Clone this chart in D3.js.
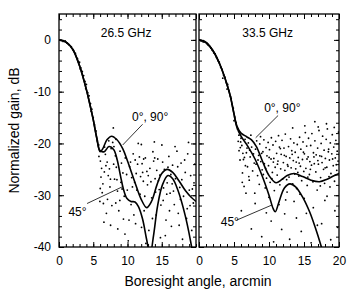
<!DOCTYPE html>
<html>
<head>
<meta charset="utf-8">
<script src="https://cdn.jsdelivr.net/npm/d3@7"></script>
<style>
  body { margin: 0; background: #fff; }
  svg { display: block; font-family: "Liberation Sans", Arial, sans-serif; }
  .tick text { font-size: 12px; fill: #000; }
</style>
</head>
<body>
<div id="graphicContainer"></div>
<script>

// ---- data (angle in arcmin, gain in dB) ----

var panels = ["26.5 GHz", "33.5 GHz"]

var xMajor = [0, 5, 10, 15, 20]
var yMajor = [0, -10, -20, -30, -40]

// 26.5 GHz, 0 and 90 deg cuts
var curveL0 = [[0,0],[1,-0.4],[2,-1.8],[3,-5],[4,-9.6],[4.5,-12.4],[5,-15.4],[5.5,-18.8],[6,-21.6],[6.4,-21],[7,-19.3],[7.7,-18.6],[8.4,-19.2],[9.3,-21],[10,-23.4],[11,-27.2],[12,-30.8],[12.8,-32.4],[13.5,-31.2],[14.3,-28],[15,-25.8],[15.8,-25],[16.6,-25.6],[17.5,-27.2],[18.5,-29.2],[19.3,-30.4],[20,-31.2]]
// 26.5 GHz, 45 deg cut
var curveL45 = [[0,0],[1,-0.4],[2,-1.8],[3,-5],[4,-9.6],[4.5,-12.4],[5,-15.4],[5.5,-18.9],[6,-21.4],[6.6,-21.6],[7.3,-20.6],[8,-21.2],[8.5,-23.2],[9,-26.4],[9.4,-28.8],[9.9,-30.6],[10.5,-31.2],[11.1,-31.3],[11.6,-32.2],[12.2,-34.6],[12.8,-38.6],[13.3,-41.5],[13.8,-37.8],[14.4,-32],[15.1,-28],[15.9,-26.2],[16.6,-26.8],[17.4,-29.2],[18.4,-33.8],[19.2,-38.8],[19.6,-42]]

// 33.5 GHz, 0 and 90 deg cuts
var curveR0 = [[0,0],[1,-0.5],[2,-2.1],[3,-4.8],[4,-8.6],[4.5,-11],[5,-14.3],[5.4,-16.6],[6,-18],[6.8,-18.7],[7.5,-19.3],[8.2,-20.6],[9,-23.2],[10,-26.2],[11,-27.6],[11.8,-27],[12.6,-26.2],[13.6,-25.8],[14.8,-26.4],[16,-27.1],[17.2,-27.4],[18.3,-26.9],[19.2,-26.3],[20,-25.8]]
// 33.5 GHz, 45 deg cut
var curveR45 = [[0,0],[1,-0.5],[2,-2.1],[3,-4.8],[4,-8.6],[4.5,-11],[5,-14.3],[5.4,-16.8],[6,-18.6],[7,-20.6],[8,-23],[9,-26.2],[10,-30],[10.6,-32.6],[10.9,-33.2],[11.4,-31.4],[12.2,-28.6],[13,-27.8],[13.8,-28.4],[14.9,-30.6],[15.8,-33.2],[16.6,-36.2],[17.4,-39.6],[17.8,-41.5]]

// measured points, 26.5 GHz
var pointsL = [[0.3,-0.1],[0.6,-0.3],[0.9,-0.2],[1.2,-0.6],[1.5,-1.0],[1.8,-1.3],[2.1,-2.0],[2.4,-2.6],[2.7,-3.6],[3.0,-4.3],[3.2,-5.4],[3.4,-6.1],[3.6,-6.9],[3.8,-8.0],[4.0,-8.6],[4.2,-10.2],[4.4,-10.8],[4.6,-12.3],[4.8,-13.4],[5.0,-15.0],[5.2,-16.4],[5.4,-17.6],[5.6,-19.5],[5.8,-20.3],[3.1,-5.6],[3.9,-9.4],[4.7,-13.8],
  [5.83,-22.5],[6.04,-23.4],[6.22,-24.8],[6.13,-26.5],[6.41,-27.8],[6.62,-25.5],[6.31,-29.5],[6.77,-22.1],[7.03,-23.6],[7.19,-26.2],[7.44,-28.4],[7.08,-30.8],[6.92,-33.5],[7.53,-35.8],[7.61,-21.0],[7.84,-19.8],[8.02,-20.6],[8.23,-22.4],[8.37,-24.6],[8.11,-26.9],[8.54,-29.2],[8.29,-31.5],[8.73,-33.0],[8.58,-36.5],[8.91,-21.5],[9.12,-23.8],[9.33,-25.7],[9.04,-27.5],[9.52,-30.2],[9.41,-34.6],[9.68,-22.8],[9.87,-26.0],[9.97,-29.0],[7.93,-17.0],[8.32,-19.2],[7.27,-19.5],[6.66,-20.7],[9.63,-37.5],[7.72,-32.0],[6.48,-31.6],[6.85,-24.3],[7.36,-24.9],[7.98,-24.0],[8.46,-27.0],[9.21,-28.8],[6.02,-28.7],[5.97,-31.2],[6.56,-35.2],[8.88,-31.0],[7.51,-26.9],
  [10.31,-24.5],[10.52,-31.8],[10.83,-22.0],[11.04,-27.5],[11.18,-35.5],[11.47,-24.0],[11.83,-29.8],[12.02,-20.2],[12.21,-25.6],[12.43,-33.0],[12.61,-22.8],[12.92,-28.0],[13.12,-36.8],[13.27,-24.8],[13.53,-30.5],[13.71,-21.6],[14.03,-26.8],[14.19,-33.8],[14.42,-23.0],[14.63,-28.9],[14.81,-38.2],[15.02,-20.3],[15.21,-31.0],[15.38,-25.0],[15.62,-34.8],[15.79,-27.6],[16.04,-22.5],[16.22,-29.6],[16.41,-36.0],[16.58,-24.2],[16.83,-31.8],[17.01,-26.8],[17.22,-21.5],[17.41,-33.5],[17.63,-28.5],[17.82,-23.8],[18.03,-38.5],[18.18,-30.2],[18.43,-25.6],[18.62,-34.5],[18.79,-22.0],[19.02,-29.0],[19.22,-26.2],[19.38,-36.8],[19.61,-31.5],[19.83,-24.0],[10.11,-38.8],[12.68,-39.3],[11.57,-20.0],[13.92,-19.7],[16.94,-20.6],[18.91,-19.8],[10.93,-33.8],[14.88,-31.9],[17.93,-27.0],[19.47,-28.8],[12.31,-27.3],[13.64,-34.5],[15.52,-37.8],[16.33,-26.0],[11.36,-29.0],[17.54,-35.8],[18.72,-32.6],[14.27,-25.2],
  [11.12,-23.2],[11.91,-26.4],[12.13,-23.9],[13.03,-26.2],[13.82,-23.4],[14.11,-29.4],[15.13,-23.6],[15.73,-29.8],[16.52,-27.8],[10.61,-26.6],[12.52,-30.2],[14.72,-26.1],
  [10.44,-23.6],[10.72,-28.4],[11.27,-25.8],[11.74,-22.6],[12.36,-23.0],[12.83,-25.4],[13.42,-27.4],[13.97,-22.8],[14.52,-27.2],[15.26,-28.6],[15.91,-24.6],[16.71,-29.2],[17.33,-24.5],[17.72,-30.8],[18.34,-23.2],[19.13,-32.0],[19.71,-27.6],[10.22,-34.8],[12.05,-36.2],[16.13,-33.0]]

// measured points, 33.5 GHz
var pointsR = [[0.3,-0.2],[0.6,-0.4],[0.8,-0.3],[1.1,-0.7],[1.3,-1.0],[1.5,-1.2],[1.7,-1.6],[1.9,-2.0],[2.1,-2.5],[2.3,-2.7],[2.5,-3.4],[2.7,-4.0],[2.9,-4.3],[3.1,-5.3],[3.3,-5.7],[3.5,-6.8],[3.7,-7.2],[3.9,-8.3],[4.1,-8.6],[4.3,-9.9],[4.5,-10.9],[4.7,-12.4],[4.9,-13.2],[5.1,-14.9],[5.3,-16.0],[5.5,-17.2],[5.7,-18.4],[3.4,-7.4],[4.0,-9.5],[4.6,-11.3],[5.0,-15.6],[5.6,-19.6],[5.9,-20.8],[6.0,-19.0],
  [5.72,-21.4],[5.86,-23.2],[5.95,-19.7],[6.27,-21.9],[6.49,-22.7],[6.63,-24.3],[6.86,-20.9],[7.12,-26.4],[6.18,-27.5],[6.71,-29.6],
  [6.12,-20.4],[6.35,-23.1],[6.58,-19.2],[6.21,-25.7],[6.77,-21.8],[6.44,-28.3],[6.93,-24.5],[7.05,-19.9],[7.31,-22.6],[7.18,-27.1],[7.52,-20.7],[7.66,-25.3],[7.41,-18.4],[7.89,-23.8],[7.97,-29.6],[8.08,-21.1],[8.24,-19.5],[8.37,-26.2],[8.15,-24.0],[8.52,-22.3],[8.68,-20.1],[8.61,-27.9],[8.83,-23.5],[8.79,-18.7],[9.02,-25.1],[9.13,-21.6],[9.27,-19.3],[9.34,-23.9],[9.46,-28.6],[9.58,-20.8],[9.71,-22.4],[9.65,-26.7],[9.88,-19.8],[9.93,-24.3],
  [10.07,-21.2],[10.16,-27.5],[10.29,-23.0],[10.34,-18.9],[10.48,-25.6],[10.57,-20.3],[10.69,-22.9],[10.76,-29.1],[10.88,-24.6],[10.95,-19.6],[11.09,-21.9],[11.17,-26.1],[11.28,-23.4],[11.36,-18.5],[11.49,-20.7],[11.55,-28.0],[11.67,-24.9],[11.74,-22.1],[11.86,-19.4],[11.93,-26.9],[12.05,-23.7],[12.14,-20.9],[12.27,-25.2],[12.33,-18.2],[12.45,-22.5],[12.58,-29.4],[12.64,-24.1],[12.79,-20.6],[12.86,-26.5],[12.97,-22.8],
  [13.08,-19.1],[13.16,-24.7],[13.25,-21.4],[13.39,-27.8],[13.47,-23.3],[13.55,-19.9],[13.68,-25.9],[13.74,-21.7],[13.89,-23.6],[13.95,-28.7],[14.04,-20.2],[14.18,-22.7],[14.26,-26.3],[14.37,-18.8],[14.49,-24.4],[14.55,-21.1],[14.67,-27.2],[14.78,-23.1],[14.86,-19.7],[14.97,-25.4],
  [15.06,-22.0],[15.19,-17.9],[15.27,-24.8],[15.38,-20.5],[15.46,-28.1],[15.59,-22.6],[15.65,-19.0],[15.77,-26.0],[15.84,-23.5],[15.96,-20.4],[16.07,-24.2],[16.13,-18.1],[16.28,-27.4],[16.35,-21.8],[16.47,-23.9],[16.56,-19.5],[16.69,-25.5],[16.74,-22.2],[16.88,-29.0],[16.95,-20.9],
  [17.06,-24.0],[17.14,-17.5],[17.26,-22.4],[17.37,-26.6],[17.45,-20.0],[17.58,-23.7],[17.66,-18.6],[17.79,-25.0],[17.87,-21.3],[17.94,-27.7],[18.05,-22.9],[18.17,-19.2],[18.26,-24.6],[18.34,-17.2],[18.48,-21.6],[18.57,-26.4],[18.63,-23.2],[18.76,-19.9],[18.85,-25.8],[18.97,-22.0],
  [19.04,-18.3],[19.18,-24.3],[19.25,-20.7],[19.36,-27.3],[19.47,-22.8],[19.55,-19.4],[19.68,-25.2],[19.74,-21.5],[19.87,-23.4],[19.93,-17.8],
  [7.24,-21.3],[7.78,-22.0],[8.43,-23.2],[8.95,-21.9],[9.52,-24.8],[10.02,-22.7],[10.62,-23.6],[11.21,-24.0],[11.62,-21.0],[12.19,-22.3],[12.71,-24.4],[13.31,-22.1],[13.82,-24.9],[14.31,-23.8],[14.92,-21.7],[15.43,-23.0],[15.91,-25.0],[16.42,-22.6],[16.98,-23.3],[17.51,-22.5],[18.02,-24.7],[18.52,-21.1],[19.09,-23.0],[19.61,-24.1],[9.19,-26.0],[10.41,-26.8],[12.52,-27.0],[14.12,-25.6],[15.55,-26.5],[17.33,-28.2],[18.71,-28.4],[19.49,-26.1],
  [6.05,-33.0],[7.48,-36.5],[8.02,-31.6],[8.96,-38.0],[9.62,-33.4],[10.31,-35.0],[10.66,-39.0],[11.43,-31.8],[11.81,-36.6],[12.24,-33.6],[12.95,-38.5],[13.58,-31.2],[13.92,-34.4],[14.61,-37.0],[15.03,-30.6],[15.34,-33.5],[16.02,-39.2],[16.33,-32.4],[16.91,-35.8],[17.52,-35.5],[17.98,-31.0],[18.82,-38.6],[19.41,-33.0],[19.81,-36.2],[9.99,-30.4],[12.38,-30.9],[14.43,-29.8],[18.29,-30.2],
  [15.12,-16.6],[17.03,-16.8],[18.21,-16.2],[19.32,-16.9],[16.55,-15.8],[13.38,-17.0]]

// annotation labels: [text, angle, dB], leaders: [a1, db1, a2, db2]
var labelsL = [["0°, 90°", 13.3, -15.7], ["45°", 2.7, -34.0]]
var leadersL = [[12.2, -16.3, 9.3, -20.3], [4.1, -31.6, 9.2, -28.4]]
var labelsR = [["0°, 90°", 11.9, -13.9], ["45°", 4.4, -35.9]]
var leadersR = [[11.3, -14.6, 8.1, -18.9], [5.4, -34.8, 10.4, -31.9]]

function init() {

	var width = 350
	var height = 296
	var top = 14, bottom = 247

	var svg = d3.select("#graphicContainer").append("svg")
		.attr("width", width)
		.attr("height", height)

	var y = d3.scaleLinear().domain([-40, 5]).range([bottom, top])

	var xL = d3.scaleLinear().domain([0, 20]).range([59, 196])
	var xR = d3.scaleLinear().domain([0, 20]).range([199, 339])

	var xMinor = d3.range(0, 21, 1)
	var yMinor = d3.range(-40, 5, 2)

	function drawPanel(x, curves, points, labels, leaders, title, isLeft, clipId) {

		var g = svg.append("g")

		svg.append("clipPath").attr("id", clipId)
			.append("rect")
			.attr("x", x.range()[0]).attr("y", top)
			.attr("width", x.range()[1] - x.range()[0])
			.attr("height", bottom - top)

		// ticks: minor then major, all pointing inward
		g.append("g").attr("transform", "translate(0," + bottom + ")")
			.call(d3.axisBottom(x).tickValues(xMinor).tickSize(-3).tickFormat(""))
		g.append("g").attr("transform", "translate(0," + bottom + ")")
			.call(d3.axisBottom(x).tickValues(isLeft ? xMajor.slice(0, 4) : xMajor).tickSize(-5).tickPadding(9).tickFormat(d => d))
		g.append("g").attr("transform", "translate(0," + top + ")")
			.call(d3.axisTop(x).tickValues(xMinor).tickSize(-3).tickFormat(""))
		g.append("g").attr("transform", "translate(0," + top + ")")
			.call(d3.axisTop(x).tickValues(xMajor).tickSize(-5).tickFormat(""))

		var x0 = x.range()[0], x1 = x.range()[1]
		g.append("g").attr("transform", "translate(" + x0 + ",0)")
			.call(d3.axisLeft(y).tickValues(yMinor).tickSize(-3).tickFormat(""))
		g.append("g").attr("transform", "translate(" + x0 + ",0)")
			.call(d3.axisLeft(y).tickValues(yMajor).tickSize(-5).tickPadding(8).tickFormat(isLeft ? (d => d) : ""))
		g.append("g").attr("transform", "translate(" + x1 + ",0)")
			.call(d3.axisRight(y).tickValues(yMinor).tickSize(-3).tickFormat(""))
		g.append("g").attr("transform", "translate(" + x1 + ",0)")
			.call(d3.axisRight(y).tickValues(yMajor).tickSize(-5).tickFormat(""))

		g.selectAll(".domain").remove()
		g.selectAll(".tick line").attr("stroke", "#000").attr("stroke-width", 1)

		// frame
		g.append("rect")
			.attr("x", x0).attr("y", top)
			.attr("width", x1 - x0).attr("height", bottom - top)
			.attr("fill", "none").attr("stroke", "#000").attr("stroke-width", 1.3)

		var plot = g.append("g").attr("clip-path", "url(#" + clipId + ")")

		plot.selectAll("circle")
			.data(points)
			.enter()
			.append("circle")
			.attr("cx", d => x(d[0]))
			.attr("cy", d => y(d[1]))
			.attr("r", 0.9)
			.attr("fill", "#000")

		var line = d3.line()
			.x(d => x(d[0]))
			.y(d => y(d[1]))
			.curve(d3.curveCatmullRom.alpha(0.5))

		curves.forEach(function (c) {
			plot.append("path")
				.datum(c)
				.attr("d", line)
				.attr("fill", "none")
				.attr("stroke", "#000")
				.attr("stroke-width", 1.6)
		})

		leaders.forEach(function (l) {
			g.append("line")
				.attr("x1", x(l[0])).attr("y1", y(l[1]))
				.attr("x2", x(l[2])).attr("y2", y(l[3]))
				.attr("stroke", "#000").attr("stroke-width", 0.8)
		})

		labels.forEach(function (l) {
			g.append("text")
				.attr("x", x(l[1])).attr("y", y(l[2]))
				.attr("text-anchor", "middle")
				.attr("font-size", 12)
				.text(l[0])
		})

		g.append("text")
			.attr("x", x(9.8)).attr("y", y(0.6))
			.attr("text-anchor", "middle")
			.attr("font-size", 12)
			.text(title)
	}

	drawPanel(xL, [curveL0, curveL45], pointsL, labelsL, leadersL, panels[0], true, "clipL")
	drawPanel(xR, [curveR0, curveR45], pointsR, labelsR, leadersR, panels[1], false, "clipR")

	svg.append("text")
		.attr("transform", "translate(19," + (top + bottom) / 2 + ") rotate(-90)")
		.attr("text-anchor", "middle")
		.attr("font-size", 14)
		.text("Normalized gain, dB")

	svg.append("text")
		.attr("x", 198)
		.attr("y", 286)
		.attr("text-anchor", "middle")
		.attr("font-size", 14)
		.text("Boresight angle, arcmin")
}

init()

</script>
</body>
</html>
